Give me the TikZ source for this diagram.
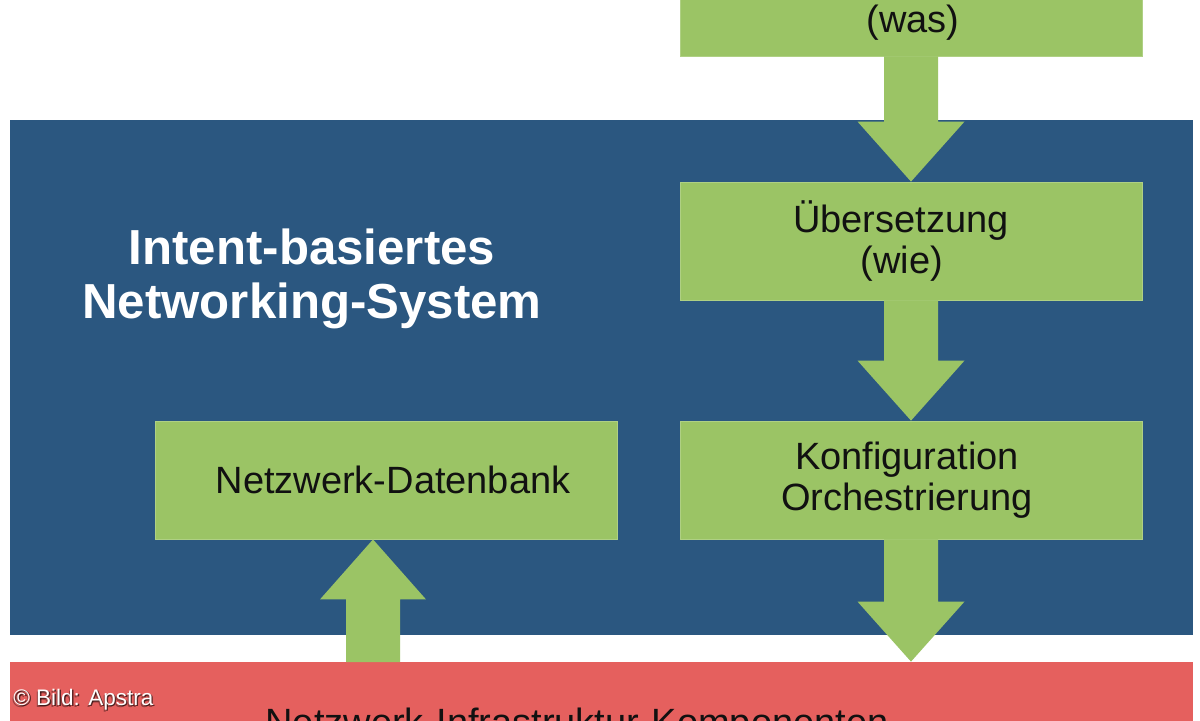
\documentclass[tikz,border=0pt]{standalone}
\usepackage{fontspec}
\setmainfont{Liberation Sans}
\usetikzlibrary{calc}
\definecolor{igreen}{HTML}{9BC465}
\definecolor{iblue}{HTML}{2B5780}
\definecolor{ired}{HTML}{E5605E}
\definecolor{itext}{HTML}{111111}
\tikzset{
  gbox/.style={fill=igreen, draw=igreen!80!white, line width=0.4pt, minimum width=231pt, minimum height=59pt, inner sep=0pt, align=center, text=itext, font=\fontsize{19pt}{20.5pt}\selectfont},
  gtext/.style={inner sep=0pt, text=itext, font=\fontsize{19pt}{20.5pt}\selectfont},
  panel/.style={inner sep=0pt, minimum width=591.5pt},
  titletext/.style={inner sep=0pt, align=center, text=white, font=\bfseries\fontsize{24.6pt}{27pt}\selectfont},
  credit/.style={inner sep=0pt, anchor=base west, font=\fontsize{11.25pt}{13pt}\selectfont},
  arrowfill/.style={fill=igreen},
}
\newcommand\blockdown[2]{%
  \fill[arrowfill] ($(#1)+(-27,0)$) -- ($(#2)+(-27,-60)$) -- ($(#2)+(-53.5,-60)$) -- (#2)
    -- ($(#2)+(53.5,-60)$) -- ($(#2)+(27,-60)$) -- ($(#1)+(27,0)$) -- cycle;}
\newcommand\blockup[2]{%
  \fill[arrowfill] ($(#1)+(-27,0)$) -- ($(#2)+(-27,60)$) -- ($(#2)+(-53,60)$) -- (#2)
    -- ($(#2)+(53,60)$) -- ($(#2)+(27,60)$) -- ($(#1)+(27,0)$) -- cycle;}
\begin{document}
\begin{tikzpicture}[x=0.5pt, y=-0.5pt]
\useasboundingbox (0,0) rectangle (1200,720);
\clip (0,0) rectangle (1200,720);
\fill[white] (0,0) rectangle (1200,720);

% panels
\node[panel, fill=iblue, minimum height=257.5pt] (ibn) at (601.5,377.5) {};
\node[panel, fill=ired, minimum height=59pt] (infra) at (601.5,721) {};

% title
\node[titletext] (title) at (312,279) {Intent-basiertes\\Networking-System};

% green boxes
\node[gbox, minimum height=60pt] (was) at (911,-4) {};
\node[gtext, anchor=base] (wastext) at (913,32) {(was)};
\node[gbox] (ueb) at (911,241) {Übersetzung\hspace*{10pt}\\(wie)\hspace*{9pt}};
\node[gbox] (kon) at (911,480) {Konfiguration\hspace*{4pt}\\Orchestrierung\hspace*{4pt}};
\node[gbox] (ndb) at (386,480) {\hspace*{7pt}Netzwerk-Datenbank};

% infrastructure label (cut off by the frame, as in the reference)
\node[gtext, anchor=base] (infratext) at (577,735) {Netzwerk-Infrastruktur-Komponenten};

% block arrows
\blockdown{was.south}{ueb.north}
\blockdown{ueb.south}{kon.north}
\blockdown{kon.south}{kon.south |- infra.north}
\coordinate (upstart) at (373,662);
\blockup{upstart}{upstart |- ndb.south}

% credit with shadow
\node[credit, text=black, opacity=0.6] at (14.4,706.4) {© Bild: Apstra};
\node[credit, text=black, opacity=0.35] at (12,707) {© Bild: Apstra};
\node[credit, text=white] (credit) at (13,705) {© Bild: Apstra};
\end{tikzpicture}
\end{document}
